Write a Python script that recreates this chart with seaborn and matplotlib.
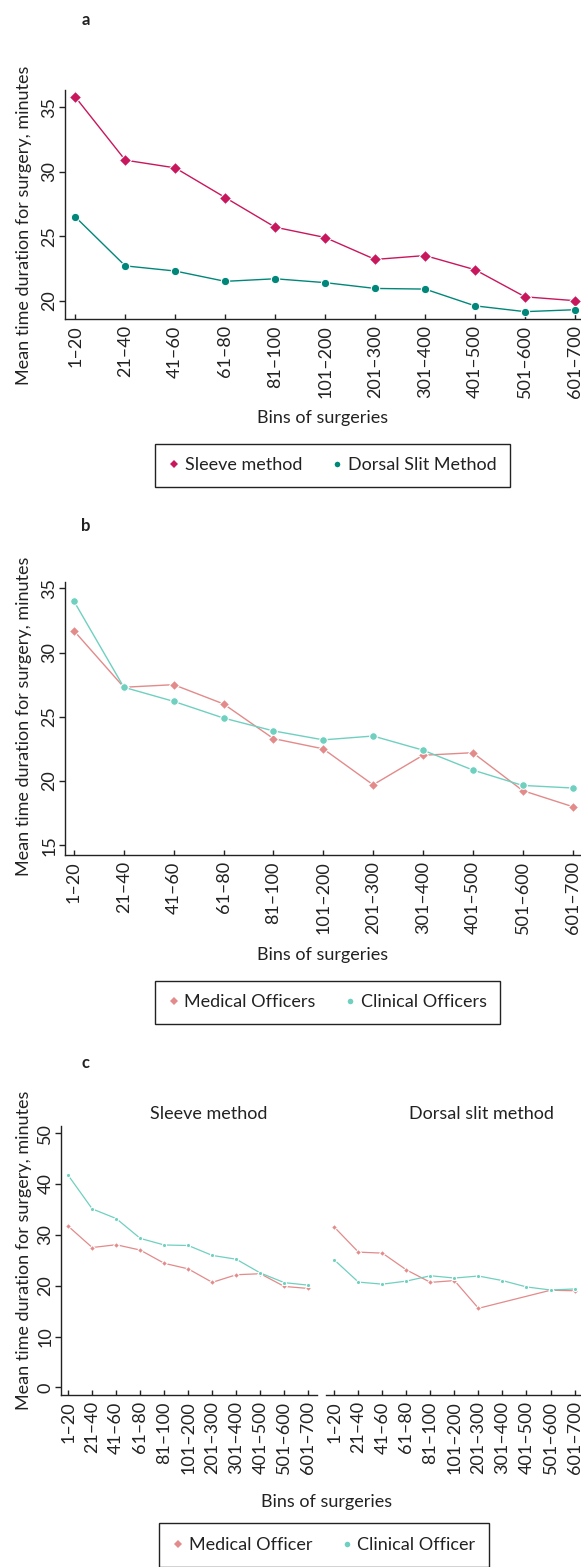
import numpy as np
import pandas as pd
import matplotlib
matplotlib.use("Agg")
import matplotlib.pyplot as plt
import seaborn as sns
from matplotlib.lines import Line2D

# Surgery bins shared by every panel
bins = ["1–20", "21–40", "41–60", "61–80", "81–100", "101–200",
        "201–300", "301–400", "401–500", "501–600", "601–700"]

# (a) mean duration by circumcision method
sleeve_method = [35.8, 30.9, 30.3, 28.0, 25.7, 24.9, 23.2, 23.5, 22.4, 20.3, 20.0]
dorsal_slit = [26.5, 22.7, 22.3, 21.5, 21.7, 21.4, 20.95, 20.9, 19.6, 19.15, 19.3]

# (b) mean duration by provider cadre
medical_officers = [31.7, 27.3, 27.5, 26.0, 23.3, 22.5, 19.7, 22.0, 22.2, 19.25, 18.0]
clinical_officers = [34.0, 27.3, 26.2, 24.9, 23.9, 23.2, 23.5, 22.4, 20.85, 19.65, 19.45]

# (c) cadre split by method
medical_sleeve = [31.7, 27.5, 28.05, 27.0, 24.4, 23.3, 20.65, 22.15, 22.35, 19.85, 19.45]
clinical_sleeve = [41.7, 35.1, 33.2, 29.3, 28.0, 27.9, 25.95, 25.2, 22.5, 20.6, 20.1]
medical_dorsal = [31.5, 26.6, 26.4, 23.1, 20.65, 21.0, 15.55, np.nan, np.nan, 19.1, 19.0]
clinical_dorsal = [25.05, 20.7, 20.3, 20.9, 21.95, 21.5, 21.9, 21.0, 19.75, 19.15, 19.35]

YLABEL = "Mean time duration for surgery, minutes"
XLABEL = "Bins of surgeries"

PINK_DARK = "#c8175d"
TEAL_DARK = "#00877a"
PINK_LIGHT = "#e38a8a"
TEAL_LIGHT = "#6fd0c0"
INK = "#222222"

sns.set_theme(style="ticks")
plt.rcParams["font.family"] = ["Lato", "DejaVu Sans"]
plt.rcParams.update({
    "axes.edgecolor": INK,
    "axes.linewidth": 1.0,
    "xtick.color": INK,
    "ytick.color": INK,
    "text.color": INK,
    "axes.labelcolor": INK,
})

W, H = 581, 1567
fig = plt.figure(figsize=(W / 100, H / 100), dpi=100)
FS = 13


def add_axes_px(x0, x1, y0, y1):
    return fig.add_axes([x0 / W, 1 - y1 / H, (x1 - x0) / W, (y1 - y0) / H])


def long_frame(series):
    rows = []
    for name, vals in series.items():
        for i, v in enumerate(vals):
            rows.append({"pos": i, "value": v, "group": name})
    return pd.DataFrame(rows).dropna()


def draw(ax, series, palette, markers, msize, lw=1.0):
    df = long_frame(series)
    sns.lineplot(data=df, x="pos", y="value", hue="group", style="group",
                 palette=palette, markers=markers, dashes=False,
                 markersize=msize, linewidth=lw, estimator=None,
                 errorbar=None, legend=False, ax=ax)


def style_axes(ax, xlim, ylim, yticks, show_y=True):
    ax.set_xlim(*xlim)
    ax.set_ylim(*ylim)
    ax.set_xticks(range(len(bins)))
    ax.set_xticklabels(bins, rotation=90, fontsize=FS)
    ax.tick_params(axis="x", direction="in", length=3.5, width=1.0, pad=4.5)
    ax.set_xlabel("")
    ax.set_ylabel("")
    for s in ("top", "right"):
        ax.spines[s].set_visible(False)
    if show_y:
        ax.set_yticks(yticks)
        ax.set_yticklabels([str(t) for t in yticks], fontsize=FS)
        for lab in ax.get_yticklabels():
            lab.set_rotation(90)
            lab.set_va("center")
        ax.tick_params(axis="y", direction="out", length=4, width=1.0, pad=1.5)
    else:
        ax.spines["left"].set_visible(False)
        ax.set_yticks([])
    ax.set_facecolor("none")


def add_legend(labels, colors, mks, center_px, msize=4):
    handles = [Line2D([], [], linestyle="none", marker=m, color=c,
                      markersize=msize, markeredgewidth=0)
               for m, c in zip(mks, colors)]
    leg = fig.legend(handles, labels, loc="center",
                     bbox_to_anchor=(center_px[0] / W, 1 - center_px[1] / H),
                     ncol=2, fontsize=FS, frameon=True, fancybox=False,
                     edgecolor=INK, framealpha=1, handlelength=0.6,
                     handletextpad=0.3, columnspacing=1.6, borderpad=0.75)
    leg.get_frame().set_linewidth(1.0)
    return leg


# ---------------- panel a ----------------
ax_a = add_axes_px(65, 581, 90, 319)
draw(ax_a, {"Sleeve method": sleeve_method, "Dorsal Slit Method": dorsal_slit},
     {"Sleeve method": PINK_DARK, "Dorsal Slit Method": TEAL_DARK},
     {"Sleeve method": "D", "Dorsal Slit Method": "o"}, 6)
style_axes(ax_a, (-0.206, 10.12), (18.58, 36.34), [20, 25, 30, 35])
fig.text(86 / W, 1 - 20 / H, "a", fontsize=12, fontweight="bold", ha="center", va="center")
fig.text(24 / W, 1 - 225 / H, YLABEL, rotation=90, fontsize=FS, ha="center", va="center")
fig.text(323 / W, 1 - 418 / H, XLABEL, fontsize=FS, ha="center", va="center")
add_legend(["Sleeve method", "Dorsal Slit Method"], [PINK_DARK, TEAL_DARK],
           ["D", "o"], (332.5, 465.5))

# ---------------- panel b ----------------
ax_b = add_axes_px(65, 581, 582, 855)
draw(ax_b, {"Medical Officers": medical_officers, "Clinical Officers": clinical_officers},
     {"Medical Officers": PINK_LIGHT, "Clinical Officers": TEAL_LIGHT},
     {"Medical Officers": "D", "Clinical Officers": "o"}, 5.5)
style_axes(ax_b, (-0.18, 10.17), (14.23, 35.5), [15, 20, 25, 30, 35])
fig.text(86 / W, 1 - 526 / H, "b", fontsize=12, fontweight="bold", ha="center", va="center")
fig.text(24 / W, 1 - 716 / H, YLABEL, rotation=90, fontsize=FS, ha="center", va="center")
fig.text(323 / W, 1 - 955 / H, XLABEL, fontsize=FS, ha="center", va="center")
add_legend(["Medical Officers", "Clinical Officers"], [PINK_LIGHT, TEAL_LIGHT],
           ["D", "o"], (327.5, 1002.5))

# ---------------- panel c ----------------
ax_c1 = add_axes_px(61, 316.7, 1126, 1395)
ax_c2 = add_axes_px(326, 581, 1126, 1395)
draw(ax_c1, {"Medical Officer": medical_sleeve, "Clinical Officer": clinical_sleeve},
     {"Medical Officer": PINK_LIGHT, "Clinical Officer": TEAL_LIGHT},
     {"Medical Officer": "D", "Clinical Officer": "o"}, 3, lw=0.9)
draw(ax_c2, {"Medical Officer": medical_dorsal, "Clinical Officer": clinical_dorsal},
     {"Medical Officer": PINK_LIGHT, "Clinical Officer": TEAL_LIGHT},
     {"Medical Officer": "D", "Clinical Officer": "o"}, 3, lw=0.9)
style_axes(ax_c1, (-0.3, 10.35), (-1.5, 51.4), [0, 10, 20, 30, 40, 50])
style_axes(ax_c2, (-0.35, 10.27), (-1.5, 51.4), [], show_y=False)
ax_c1.text(0.578, 1.0446, "Sleeve method", transform=ax_c1.transAxes,
           fontsize=FS, ha="center", va="center")
ax_c2.text(0.608, 1.0446, "Dorsal slit method", transform=ax_c2.transAxes,
           fontsize=FS, ha="center", va="center")
fig.text(86 / W, 1 - 1063 / H, "c", fontsize=12, fontweight="bold", ha="center", va="center")
fig.text(24 / W, 1 - 1250 / H, YLABEL, rotation=90, fontsize=FS, ha="center", va="center")
fig.text(327 / W, 1 - 1502 / H, XLABEL, fontsize=FS, ha="center", va="center")
add_legend(["Medical Officer", "Clinical Officer"], [PINK_LIGHT, TEAL_LIGHT],
           ["D", "o"], (324, 1545))

fig.savefig("out.png", dpi=100, facecolor="white")
